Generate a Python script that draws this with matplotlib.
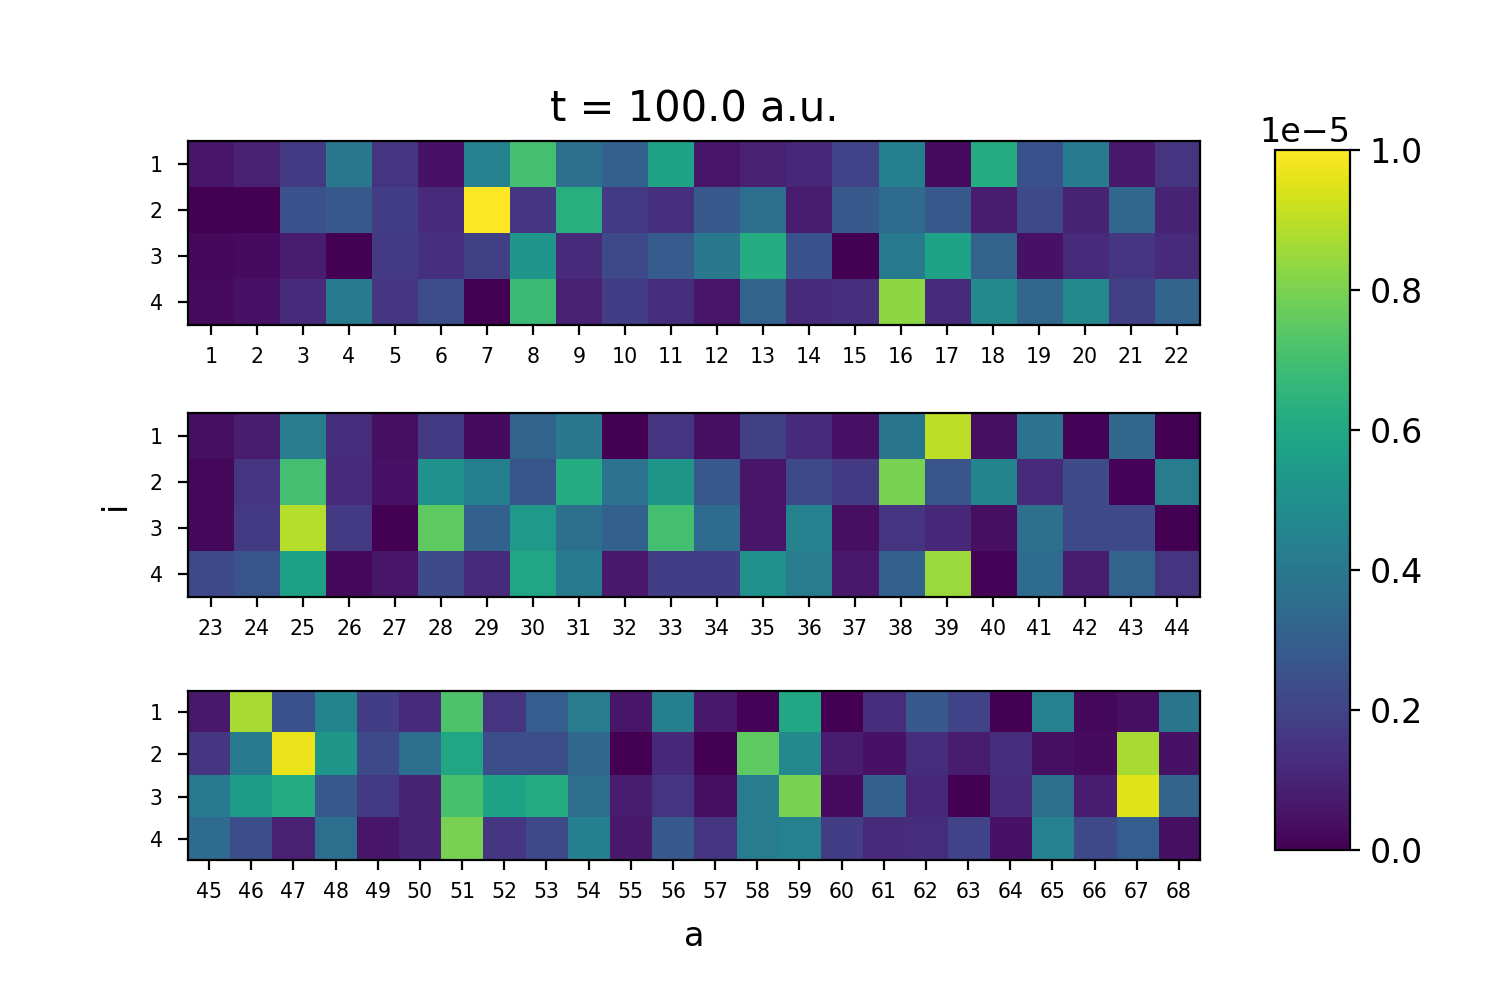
import numpy as np
import matplotlib
matplotlib.use("Agg")
import matplotlib.pyplot as plt

plt.rcParams['font.size'] = 12

title = "t = 100.0 a.u."
scale = 1e-5

a_panel1 = list(range(1, 23))
a_panel2 = list(range(23, 45))
a_panel3 = list(range(45, 69))
i_labels = [1, 2, 3, 4]

# values in units of 1e-5, rows i = 1..4
panel1 = [
    [0.06, 0.09, 0.17, 0.40, 0.15, 0.05, 0.44, 0.70, 0.37, 0.31, 0.58,
     0.06, 0.09, 0.11, 0.20, 0.43, 0.03, 0.62, 0.25, 0.41, 0.07, 0.15],
    [0.00, 0.00, 0.25, 0.28, 0.18, 0.12, 1.00, 0.16, 0.63, 0.17, 0.14,
     0.28, 0.36, 0.08, 0.28, 0.35, 0.28, 0.08, 0.22, 0.10, 0.33, 0.10],
    [0.02, 0.03, 0.08, 0.00, 0.17, 0.14, 0.19, 0.52, 0.12, 0.22, 0.29,
     0.40, 0.62, 0.25, 0.00, 0.41, 0.58, 0.32, 0.05, 0.12, 0.16, 0.12],
    [0.03, 0.05, 0.12, 0.41, 0.16, 0.24, 0.00, 0.68, 0.09, 0.18, 0.13,
     0.06, 0.32, 0.12, 0.14, 0.83, 0.12, 0.47, 0.33, 0.47, 0.19, 0.32],
]
panel2 = [
    [0.04, 0.08, 0.42, 0.13, 0.04, 0.17, 0.03, 0.32, 0.40, 0.00, 0.15,
     0.04, 0.19, 0.12, 0.05, 0.39, 0.90, 0.04, 0.38, 0.01, 0.33, 0.00],
    [0.02, 0.15, 0.70, 0.12, 0.05, 0.51, 0.43, 0.26, 0.62, 0.38, 0.53,
     0.27, 0.06, 0.22, 0.17, 0.80, 0.26, 0.45, 0.12, 0.23, 0.01, 0.42],
    [0.02, 0.17, 0.89, 0.17, 0.00, 0.75, 0.31, 0.54, 0.37, 0.31, 0.70,
     0.35, 0.06, 0.44, 0.04, 0.15, 0.11, 0.04, 0.37, 0.22, 0.22, 0.00],
    [0.22, 0.26, 0.57, 0.02, 0.06, 0.23, 0.12, 0.59, 0.41, 0.07, 0.18,
     0.18, 0.50, 0.42, 0.07, 0.31, 0.85, 0.01, 0.35, 0.08, 0.32, 0.15],
]
panel3 = [
    [0.07, 0.87, 0.25, 0.45, 0.18, 0.12, 0.72, 0.15, 0.30, 0.42, 0.06, 0.43,
     0.07, 0.01, 0.60, 0.00, 0.13, 0.28, 0.20, 0.00, 0.44, 0.02, 0.04, 0.39],
    [0.16, 0.41, 0.97, 0.53, 0.22, 0.36, 0.59, 0.24, 0.24, 0.33, 0.00, 0.11,
     0.00, 0.75, 0.47, 0.08, 0.05, 0.13, 0.08, 0.13, 0.04, 0.03, 0.87, 0.05],
    [0.41, 0.55, 0.62, 0.28, 0.17, 0.10, 0.71, 0.58, 0.62, 0.36, 0.08, 0.15,
     0.04, 0.42, 0.80, 0.03, 0.31, 0.11, 0.00, 0.12, 0.37, 0.08, 0.95, 0.32],
    [0.35, 0.24, 0.09, 0.36, 0.06, 0.10, 0.80, 0.16, 0.22, 0.43, 0.07, 0.28,
     0.15, 0.42, 0.44, 0.18, 0.12, 0.13, 0.20, 0.05, 0.44, 0.22, 0.30, 0.04],
]

fig = plt.figure(figsize=(7.5, 5), dpi=200)

positions = [
    [0.1253, 0.675, 0.6747, 0.184],
    [0.1253, 0.403, 0.6747, 0.184],
    [0.1253, 0.140, 0.6747, 0.169],
]
panels = [(a_panel1, panel1), (a_panel2, panel2), (a_panel3, panel3)]
axes = []
im = None
for pos, (avals, vals) in zip(positions, panels):
    ax = fig.add_axes(pos)
    data = np.array(vals) * scale
    im = ax.imshow(data, cmap='viridis', vmin=0, vmax=scale, aspect='auto',
                   interpolation='nearest',
                   extent=(avals[0] - 0.5, avals[-1] + 0.5, i_labels[-1] + 0.5, i_labels[0] - 0.5))
    ax.set_xticks(avals)
    ax.set_xticklabels([str(v) for v in avals])
    ax.set_yticks(i_labels)
    ax.set_yticklabels([str(v) for v in i_labels])
    ax.tick_params(axis='x', labelsize=7.4, pad=4.5)
    ax.tick_params(axis='y', labelsize=7.4, pad=5.5)
    axes.append(ax)

axes[0].set_title(title, fontsize=15, pad=7)
axes[1].set_ylabel("i", fontsize=12, labelpad=6.5)
axes[2].set_xlabel("a", fontsize=12, labelpad=6.5)

cax = fig.add_axes([0.85, 0.15, 0.05, 0.70])
cb = fig.colorbar(im, cax=cax)
cb.set_ticks([0, 0.2e-5, 0.4e-5, 0.6e-5, 0.8e-5, 1.0e-5])
cb.ax.tick_params(labelsize=12)

fig.savefig("out.png", dpi=200)
